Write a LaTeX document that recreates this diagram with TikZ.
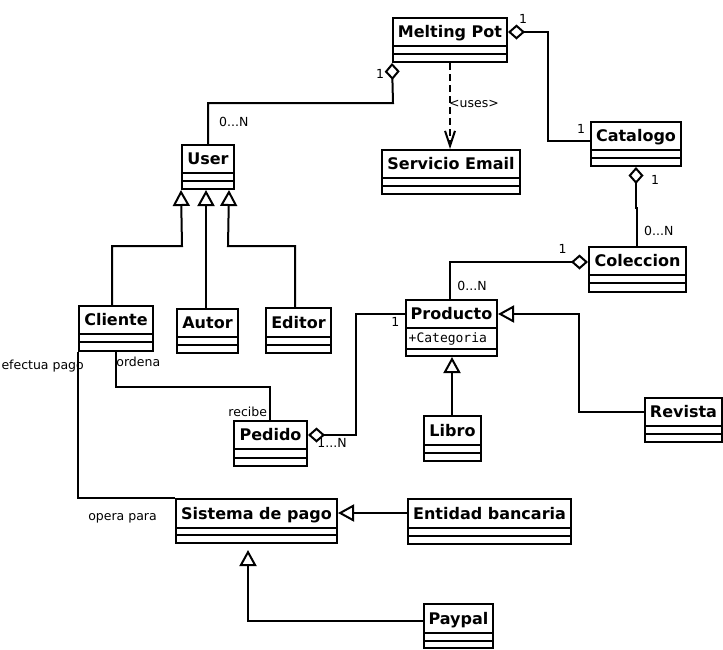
\documentclass[tikz,border=0pt]{standalone}
\usepackage{fontspec}
\setmainfont{DejaVu Sans}
\setmonofont{DejaVu Sans Mono}
\usetikzlibrary{arrows.meta,calc,fit}
\tikzset{
  clsbox/.style={draw, line width=2pt, inner sep=0pt, fill=white},
  clsline/.style={line width=2pt},
  clstitle/.style={font=\fontsize{16}{19}\selectfont\bfseries, inner sep=0pt, anchor=base},
  attr/.style={font=\fontsize{13}{15}\selectfont\ttfamily, inner sep=0pt, anchor=base west},
  lbl/.style={font=\fontsize{12.5}{15}\selectfont, inner sep=0pt},
  conn/.style={line width=2pt},
  agg/.style={conn, {Diamond[length=17pt,width=15pt,fill=white]}-},
  gen/.style={conn, -{Triangle[open,length=16pt,width=17pt]}},
  dep/.style={conn, dash pattern=on 7pt off 4pt, -{Straight Barb[length=15pt,width=10pt]}},
}
% name, x1, y1, x2, y2, line1, line2, title
\newcommand\umlclass[8]{%
  \node[clsbox, fit={(#2,#3) (#4,#5)}] (#1) {};
  \draw[clsline] (#2,#6) -- (#4,#6) (#2,#7) -- (#4,#7);
  \node[clstitle] (#1-t) at ($(#2,#3)!0.5!(#4,#6)+(0,5.8)$) {#8};
}
\begin{document}
\begin{tikzpicture}[x=1pt,y=-1pt]
\useasboundingbox (0,0) rectangle (723,649);

% classes
\umlclass{mp}{393}{18}{507}{62}{46}{54}{Melting Pot}
\umlclass{svc}{382}{150}{520}{194}{178}{186}{Servicio Email}
\umlclass{cat}{591}{122}{681}{166}{150}{158}{Catalogo}
\umlclass{col}{589}{247}{686}{292}{275}{283}{Coleccion}
\umlclass{user}{182}{145}{234}{189}{173}{181}{User}
\umlclass{prod}{406}{300}{497}{356}{328}{349}{Producto}
\node[attr] (prod-a) at (408.5,342.3) {+Categoria};
\umlclass{rev}{645}{398}{722}{442}{426}{434}{Revista}
\umlclass{libro}{424}{416}{481}{461}{445}{453}{Libro}
\umlclass{cli}{79}{306}{153}{351}{334}{342}{Cliente}
\umlclass{autor}{177}{309}{238}{353}{337}{345}{Autor}
\umlclass{ed}{266}{308}{331}{353}{337}{345}{Editor}
\umlclass{ped}{234}{421}{307}{466}{449}{458}{Pedido}
\umlclass{sis}{176}{499}{337}{543}{528}{535}{Sistema de pago}
\umlclass{ent}{408}{499}{571}{544}{528}{536}{Entidad bancaria}
\umlclass{pay}{424}{604}{493}{648}{633}{641}{Paypal}

% Melting Pot -- User
\draw[agg] (mp.south west) -- (393,103) -| (user.north);
\node[lbl] (l1) at (380,73.5) {1};
\node[lbl] (l2) at (233.8,122) {0...N};

% Melting Pot -- Catalogo
\draw[agg] ([yshift=8pt]mp.east) -- (548,32) |- ([yshift=3pt]cat.west);
\node[lbl] (l3) at (523,18.7) {1};
\node[lbl] (l4) at (581,128.8) {1};

% uses
\draw[dep] (mp.south) -- (mp.south |- svc.north);
\node[lbl, anchor=west] (l5) at (449,104) {<uses>};

% Catalogo -- Coleccion
\draw[agg] (cat.south) -- ++(0,41) -| ([xshift=-0.5pt]col.north);
\node[lbl] (l6) at (655,179.5) {1};
\node[lbl] (l7) at (658.8,230.5) {0...N};

% Coleccion -- Producto
\draw[agg] ([yshift=7.5pt]col.west) -| ([xshift=-1.5pt]prod.north);
\node[lbl] (l8) at (562.5,248.8) {1};
\node[lbl] (l9) at (472,286) {0...N};

% Revista -> Producto
\draw[gen] ([yshift=8pt]rev.west) -| (579,314) -- ([yshift=14pt]prod.east);

% Libro -> Producto
\draw[gen] ([xshift=-0.5pt]libro.north) -- ([xshift=0.5pt]prod.south);

% Pedido -- Producto
\draw[agg] ([yshift=8.5pt]ped.east) -| (356,314) -- ([yshift=14pt]prod.west);
\node[lbl] (l10) at (395.3,322.3) {1};
\node[lbl] (l11) at (332,443) {1...N};

% User generalizations
\draw[gen] ([xshift=-4pt]cli.north) |- (182,246) -- (user.south west);
\draw[gen] ([xshift=-1.5pt]autor.north) -- ([xshift=-2pt]user.south);
\draw[gen] ([xshift=-3.5pt]ed.north) |- (228,246) -- ([xshift=-6pt]user.south east);

% Cliente -- Pedido
\draw[conn] (cli.south) -- ++(0,35) -| ([xshift=-0.5pt]ped.north);
\node[lbl] (l12) at (138.3,362.2) {ordena};
\node[lbl] (l13) at (247.7,412.3) {recibe};

% Cliente -- Sistema de pago
\draw[conn] (cli.south west) |- (sis.north west);
\node[lbl, anchor=base east] (l14) at (84,369.5) {efectua pago};
\node[lbl, anchor=base] (l15) at (122.5,520) {opera para};

% Entidad bancaria -> Sistema de pago
\draw[gen] ([yshift=8.5pt]ent.west) -- ([yshift=8pt]sis.east);

% Paypal -> Sistema de pago
\draw[gen] ([yshift=5pt]pay.west) -| ([shift={(-8.5pt,-6pt)}]sis.south);
\end{tikzpicture}
\end{document}
